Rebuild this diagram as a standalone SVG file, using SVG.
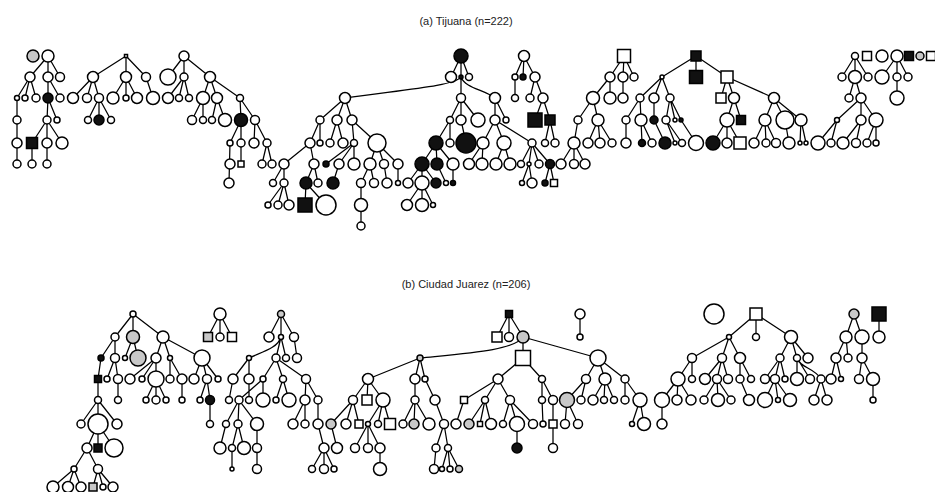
<svg xmlns="http://www.w3.org/2000/svg" width="935" height="492" viewBox="0 0 935 492">
<style>
.e{fill:none;stroke:#000;stroke-width:1.25}
.n{fill:#fff;stroke:#000;stroke-width:1.5}
.b{fill:#111;stroke:#000;stroke-width:1.5}
.g{fill:#c8c8c8;stroke:#000;stroke-width:1.5}
.t{font-family:"Liberation Sans",Arial,sans-serif;font-size:11px;fill:#222;text-anchor:middle}
</style>
<rect width="935" height="492" fill="#fff"/>
<text class="t" x="466" y="25">(a) Tijuana (n=222)</text>
<text class="t" x="466" y="288">(b) Ciudad Juarez (n=206)</text>
<g id="connectors">
<path class="e" d="M48 56L30 77M48 56L48 77M48 56L60 77M30 77L17 98M30 77L25 98M30 77L36 98M48 77L48 98M48 77L60 98M17 98L17 164M48 98L47 120M48 98L57 120M47 120L32 143M47 120L47 143M47 120L62 143M32 143L32 164M47 143L47 164"/>
<path class="e" d="M126 56L93 77M126 56L126 77M126 56L146 77M93 77L73 98M93 77L87 98M93 77L99 98M99 98L88 120M99 98L99 120M99 98L111 120M126 77L113 98M126 77L126 98M126 77L137 98M146 77L153 98"/>
<path class="e" d="M184 56L168 77M184 56L184 77M184 56L210 77M184 77L168 98M184 77L179 98M184 77L189 98M210 77L203 98M210 77L217 98M210 77L240 98M203 98L192 120M203 98L203 120M217 98L212 120M217 98L225 120M240 98L241 120M240 98L255 120M241 120L230 143M241 120L241 143M255 120L254 143M255 120L267 143M230 143L229 183M241 143L241 164M267 143L262 164M267 143L272 164"/>
<path class="e" d="M461 56L451 77M461 56L461 77M461 56L469 77M461 77C455 86 400 90 345 98M461 77L461 98M461 77C465 88 485 90 495 98M345 98L320 120M345 98L337 120M345 98L352 120M461 98L450 120M461 98L461 120M461 98L478 120M495 98L495 120M495 98L506 120M320 120L310 143M320 120L320 143M337 120L330 143M337 120L343 143M352 120L354 143M352 120L377 143M450 120L436 143M450 120L450 143M461 120L466 143M495 120L483 143M495 120L504 143M495 120L532 143M310 143L284 164M310 143L314 164M354 143L326 164M354 143L339 164M354 143L354 164M377 143L370 164M377 143L384 164M377 143L398 164M436 143L422 164M436 143L437 164M436 143L453 164M483 143L469 164M483 143L482 164M504 143L496 164M504 143L510 164M532 143L521 164M532 143L529 164M532 143L539 164M532 143L550 164M284 164L273 183M284 164L284 183M314 164L306 183M314 164L318 183M339 164L333 183M370 164L361 183M370 164L374 183M384 164L387 183M398 164L398 183M422 164L408 183M422 164L422 183M422 164L436 183M437 164L446 183M453 164L453 183M529 164L522 183M529 164L532 183M550 164L545 183M550 164L554 183M284 183L268 205M284 183L278 205M284 183L289 205M306 183L305 205M306 183L326 205M361 183L361 226M422 183L407 205M422 183L422 205M422 183L433 205"/>
<path class="e" d="M524 56L515 77M524 56L523 77M524 56L535 77M515 77L515 98M535 77L530 98M535 77L543 98M543 98L535 120M543 98L550 120M550 120L545 143M550 120L555 143"/>
<path class="e" d="M624 56L610 77M624 56L623 77M624 56L634 77M610 77L593 98M610 77L610 98M623 77L623 98M593 98L578 120M593 98L598 120M578 120L574 143M598 120L588 143M598 120L600 143M598 120L612 143M574 143L561 164M574 143L574 164M574 143L585 164"/>
<path class="e" d="M696 56L662 77M696 56L696 77M696 56L727 77M662 77L640 98M662 77L654 98M662 77L670 98M640 98L626 120M640 98L641 120M654 98L654 120M670 98L666 120M670 98L675 120M670 98L681 120M727 77L721 98M727 77L734 98M727 77L774 98M734 98L727 120M734 98L741 120M774 98L765 120M774 98L785 120M774 98L801 120M626 120L626 143M641 120L642 143M641 120L652 143M654 120L665 143M666 120L675 143M666 120L682 143M681 120L696 143M727 120L713 143M727 120L727 143M727 120L740 143M765 120L754 143M765 120L766 143M765 120L776 143M785 120L789 143M801 120L800 143M801 120L806 143"/>
<path class="e" d="M855 56L842 77M855 56L855 77M855 56L868 77M855 77L849 98M855 77L861 98M861 98L837 120M861 98L861 120M861 98L876 120M837 120L818 143M837 120L831 143M861 120L843 143M861 120L856 143M876 120L867 143M876 120L876 143"/>
<path class="e" d="M897 56L882 77M897 56L897 77M897 56L908 77M897 77L897 98"/>
<path class="e" d="M133 314L115 337M133 314L133 337M133 314L163 337M115 337L101 358M115 337L115 358M133 337L125 358M133 337L138 358M163 337L156 358M163 337L170 358M163 337L202 358M101 358L98 379M115 358L107 379M115 358L118 379M156 358L130 379M156 358L142 379M156 358L156 379M170 358L170 379M170 358L182 379M202 358L194 379M202 358L207 379M202 358L218 379M98 379L98 400M118 379L118 400M156 379L146 400M156 379L156 400M156 379L166 400M182 379L182 400M207 379L200 400M207 379L210 400L210 424M98 400L81 424M98 400L98 424M98 400L117 424M98 424L87 448M98 424L98 448M98 424L114 448M87 448L74 469M87 448L98 469M74 469L53 487M74 469L68 487M74 469L81 487M98 469L93 487M98 469L103 487M98 469L113 487"/>
<path class="e" d="M220 314L208 337M220 314L220 337M220 314L232 337"/>
<path class="e" d="M281 314L269 337M281 314L281 337M281 314L294 337M281 337C278 348 262 352 249 358M281 337L276 358M281 337L286 358M294 337L297 358M249 358L233 379M249 358L249 379M276 358L263 379M276 358L283 379M276 358L306 379M233 379L229 400M263 379L239 400M263 379L263 400M249 379L249 400M283 379L276 400M283 379L289 400M306 379L305 400M306 379L318 400M239 400L226 424M239 400L238 424M239 400L257 424M305 400L293 424M305 400L305 424M318 400L318 424M226 424L220 448M238 424L232 448L232 469M238 424L244 448M257 424L257 469M318 424L324 448M324 448L312 469M324 448L324 469M324 448L334 469"/>
<path class="e" d="M509 314L497 337M509 314L509 337M509 314L523 337M523 337C515 350 470 353 420 358M523 337L523 358M523 337L598 358M420 358L368 379M420 358L415 379M420 358L425 379M523 358L498 379M523 358L542 379M598 358L586 379M598 358L605 379M598 358L625 379M368 379L353 400M368 379L367 400M368 379L383 400M415 379L415 400M425 379L435 400M498 379L464 400M498 379L485 400M498 379L510 400M542 379L542 400M542 379L553 400M586 379L567 400M586 379L581 400M605 379L593 400M605 379L604 400M605 379L614 400M625 379L625 400M625 379L640 400M353 400L331 424M353 400L346 424M353 400L359 424M383 400L368 424M383 400L378 424M383 400L390 424M415 400L403 424M415 400L414 424M415 400L429 424M435 400L444 424M464 400L456 424M485 400L469 424M485 400L480 424M485 400L491 424M510 400L503 424M510 400L517 424M510 400L533 424M542 400L543 424M553 400L553 448M567 400L565 424M567 400L578 424M640 400L632 424M640 400L644 424M331 424L337 448M368 424L355 448M368 424L368 448M368 424L380 448M380 448L380 469M444 424L436 448M444 424L448 448M436 448L434 469M448 448L442 469M448 448L450 469M448 448L459 469M517 424L517 448"/>
<path class="e" d="M580 314L580 337"/>
<path class="e" d="M756 314L729 337M756 314L756 337M756 314L791 337M729 337L692 358M729 337L722 358M729 337L740 358M791 337L780 358M791 337L797 358M791 337L808 358M692 358L678 379M692 358L692 379M722 358L705 379M722 358L717 379M722 358L728 379M740 358L740 379M740 358L751 379M780 358L765 379M780 358L775 379M780 358L785 379M797 358L797 379M797 358L810 379M797 358C800 368 815 368 821 379M678 379L662 400M678 379L677 400M678 379L691 400M717 379L704 400M717 379L718 400M717 379L731 400M740 379L749 400M775 379L765 400M775 379L778 400M775 379L790 400M821 379L814 400M821 379L827 400M662 400L662 424"/>
<path class="e" d="M854 314L846 337M854 314L862 337M846 337L836 358M846 337L848 358M862 337L862 358M836 358L831 379M836 358L841 379M862 358L859 379M862 358L873 379M873 379L873 400"/>
<path class="e" d="M879 314L879 337"/>
</g>
<g id="tree-a1"><circle id="a1-1" class="g" cx="33" cy="56" r="6"/></g>
<g id="tree-a2">
<circle id="a2-1" class="n" cx="48" cy="56" r="6"/><circle id="a2-2" class="n" cx="30" cy="77" r="5"/><circle id="a2-3" class="n" cx="48" cy="77" r="5"/><circle id="a2-4" class="n" cx="60" cy="77" r="4.5"/>
<circle id="a2-5" class="n" cx="17" cy="98" r="2.5"/><circle id="a2-6" class="n" cx="25" cy="98" r="3"/><circle id="a2-7" class="n" cx="36" cy="98" r="4"/><circle id="a2-8" class="b" cx="48" cy="98" r="5"/><circle id="a2-9" class="n" cx="60" cy="98" r="4"/>
<circle id="a2-10" class="n" cx="17" cy="120" r="4"/><circle id="a2-11" class="n" cx="47" cy="120" r="4"/><circle id="a2-12" class="n" cx="57" cy="120" r="3"/>
<circle id="a2-13" class="n" cx="17" cy="143" r="5"/><rect id="a2-14" class="b" x="26.5" y="137.5" width="11" height="11"/><circle id="a2-15" class="n" cx="47" cy="143" r="5"/><circle id="a2-16" class="n" cx="62" cy="143" r="6"/>
<circle id="a2-17" class="n" cx="17" cy="164" r="4"/><circle id="a2-18" class="n" cx="32" cy="164" r="4"/><circle id="a2-19" class="n" cx="47" cy="164" r="4"/>
</g>
<g id="tree-a3">
<rect id="a3-1" class="n" x="124.5" y="54.5" width="3" height="3"/>
<circle id="a3-2" class="n" cx="93" cy="77" r="5.5"/><circle id="a3-3" class="n" cx="126" cy="77" r="5.5"/><circle id="a3-4" class="n" cx="146" cy="77" r="4.5"/>
<circle id="a3-5" class="n" cx="73" cy="98" r="5.5"/><circle id="a3-6" class="n" cx="87" cy="98" r="4.5"/><circle id="a3-7" class="n" cx="99" cy="98" r="4.5"/><circle id="a3-8" class="n" cx="113" cy="98" r="6"/><circle id="a3-9" class="n" cx="126" cy="98" r="3"/><circle id="a3-10" class="n" cx="137" cy="98" r="5.5"/><circle id="a3-11" class="n" cx="153" cy="98" r="6.5"/>
<circle id="a3-12" class="n" cx="88" cy="120" r="3.5"/><circle id="a3-13" class="b" cx="99" cy="120" r="5"/><circle id="a3-14" class="n" cx="111" cy="120" r="3.5"/>
</g>
<g id="tree-a4">
<circle id="a4-1" class="n" cx="184" cy="56" r="5"/><circle id="a4-2" class="n" cx="168" cy="77" r="8"/><circle id="a4-3" class="n" cx="184" cy="77" r="4"/><circle id="a4-4" class="n" cx="210" cy="77" r="5.5"/>
<circle id="a4-5" class="n" cx="168" cy="98" r="5.5"/><circle id="a4-6" class="n" cx="179" cy="98" r="3.5"/><circle id="a4-7" class="n" cx="189" cy="98" r="3.5"/><circle id="a4-8" class="n" cx="203" cy="98" r="6.5"/><circle id="a4-9" class="n" cx="217" cy="98" r="5.5"/><circle id="a4-10" class="n" cx="240" cy="98" r="3.5"/>
<circle id="a4-11" class="n" cx="192" cy="120" r="4.5"/><circle id="a4-12" class="n" cx="203" cy="120" r="3.5"/><circle id="a4-13" class="n" cx="212" cy="120" r="3.5"/><circle id="a4-14" class="n" cx="225" cy="120" r="6.5"/><circle id="a4-15" class="b" cx="241" cy="120" r="6.5"/><circle id="a4-16" class="n" cx="255" cy="120" r="4.5"/>
<circle id="a4-17" class="n" cx="230" cy="143" r="3"/><circle id="a4-18" class="n" cx="241" cy="143" r="4"/><circle id="a4-19" class="n" cx="254" cy="143" r="5"/><circle id="a4-20" class="n" cx="267" cy="143" r="4"/>
<circle id="a4-21" class="n" cx="230" cy="164" r="5"/><rect id="a4-22" class="n" x="238" y="161" width="6" height="6"/><circle id="a4-23" class="n" cx="262" cy="164" r="4"/><circle id="a4-24" class="n" cx="272" cy="164" r="4"/>
<circle id="a4-25" class="n" cx="229" cy="183" r="5"/>
</g>
<g id="tree-a5">
<circle id="a5-1" class="b" cx="461" cy="56" r="7"/><circle id="a5-2" class="n" cx="451" cy="77" r="5.5"/><circle id="a5-3" class="b" cx="461" cy="77" r="2"/><circle id="a5-4" class="n" cx="469" cy="77" r="3.5"/>
<circle id="a5-5" class="n" cx="345" cy="98" r="5.5"/><circle id="a5-6" class="n" cx="461" cy="98" r="4.5"/><circle id="a5-7" class="n" cx="495" cy="98" r="5.5"/>
<circle id="a5-8" class="n" cx="320" cy="120" r="4"/><circle id="a5-9" class="n" cx="337" cy="120" r="5"/><circle id="a5-10" class="n" cx="352" cy="120" r="5"/><circle id="a5-11" class="n" cx="450" cy="120" r="3.5"/><circle id="a5-12" class="n" cx="461" cy="120" r="5"/><circle id="a5-13" class="n" cx="478" cy="120" r="7"/><circle id="a5-14" class="n" cx="495" cy="120" r="5"/><circle id="a5-15" class="n" cx="506" cy="120" r="3"/>
<circle id="a5-16" class="n" cx="310" cy="143" r="5"/><circle id="a5-17" class="n" cx="320" cy="143" r="3"/><circle id="a5-18" class="n" cx="330" cy="143" r="4"/><circle id="a5-19" class="n" cx="343" cy="143" r="5"/><circle id="a5-20" class="n" cx="354" cy="143" r="3.5"/><circle id="a5-21" class="n" cx="377" cy="143" r="9"/><circle id="a5-22" class="b" cx="436" cy="143" r="7"/><circle id="a5-23" class="n" cx="450" cy="143" r="4"/><circle id="a5-24" class="b" cx="466" cy="143" r="10"/><circle id="a5-25" class="n" cx="483" cy="143" r="6"/><circle id="a5-26" class="n" cx="504" cy="143" r="7"/><circle id="a5-27" class="n" cx="532" cy="143" r="4"/>
<circle id="a5-28" class="n" cx="284" cy="164" r="5"/><circle id="a5-29" class="n" cx="314" cy="164" r="5"/><circle id="a5-30" class="b" cx="326" cy="164" r="3"/><circle id="a5-31" class="n" cx="339" cy="164" r="5"/><circle id="a5-32" class="n" cx="354" cy="164" r="6"/><circle id="a5-33" class="n" cx="370" cy="164" r="6"/><circle id="a5-34" class="n" cx="384" cy="164" r="4.5"/><circle id="a5-35" class="n" cx="398" cy="164" r="5"/><circle id="a5-36" class="b" cx="422" cy="164" r="7"/><circle id="a5-37" class="b" cx="437" cy="164" r="6"/><circle id="a5-38" class="n" cx="453" cy="164" r="6"/><circle id="a5-39" class="n" cx="469" cy="164" r="5.5"/><circle id="a5-40" class="n" cx="482" cy="164" r="6"/><circle id="a5-41" class="n" cx="496" cy="164" r="6"/><circle id="a5-42" class="n" cx="510" cy="164" r="6"/><circle id="a5-43" class="n" cx="521" cy="164" r="3.5"/><circle id="a5-44" class="n" cx="529" cy="164" r="2"/><circle id="a5-45" class="n" cx="539" cy="164" r="4"/><circle id="a5-46" class="b" cx="550" cy="164" r="4.5"/>
<circle id="a5-47" class="n" cx="273" cy="183" r="3.5"/><circle id="a5-48" class="n" cx="284" cy="183" r="4"/><circle id="a5-49" class="b" cx="306" cy="183" r="6"/><circle id="a5-50" class="n" cx="318" cy="183" r="4"/><circle id="a5-51" class="b" cx="333" cy="183" r="6"/><circle id="a5-52" class="n" cx="361" cy="183" r="4.5"/><circle id="a5-53" class="n" cx="374" cy="183" r="4.5"/><circle id="a5-54" class="n" cx="387" cy="183" r="5"/><circle id="a5-55" class="n" cx="398" cy="183" r="2.5"/><circle id="a5-56" class="n" cx="408" cy="183" r="5"/><circle id="a5-57" class="n" cx="422" cy="183" r="7"/><circle id="a5-58" class="b" cx="436" cy="183" r="5"/><circle id="a5-59" class="n" cx="446" cy="183" r="2.5"/><circle id="a5-60" class="b" cx="453" cy="183" r="2.5"/><circle id="a5-61" class="n" cx="522" cy="183" r="2.5"/><circle id="a5-62" class="n" cx="532" cy="183" r="5"/><circle id="a5-63" class="b" cx="545" cy="183" r="3"/><rect id="a5-64" class="n" x="550.5" y="179.5" width="7" height="7"/>
<circle id="a5-65" class="n" cx="268" cy="205" r="3"/><circle id="a5-66" class="n" cx="278" cy="205" r="4"/><circle id="a5-67" class="n" cx="289" cy="205" r="5"/><rect id="a5-68" class="b" x="298" y="198" width="14" height="14"/><circle id="a5-69" class="n" cx="326" cy="205" r="10"/><circle id="a5-70" class="n" cx="361" cy="205" r="6.5"/><circle id="a5-71" class="n" cx="407" cy="205" r="5.5"/><circle id="a5-72" class="n" cx="422" cy="205" r="6.5"/><circle id="a5-73" class="n" cx="433" cy="205" r="2.5"/>
<circle id="a5-74" class="n" cx="361" cy="226" r="4"/>
</g>
<g id="tree-a6">
<circle id="a6-1" class="n" cx="524" cy="56" r="5.5"/><circle id="a6-2" class="n" cx="515" cy="77" r="3"/><circle id="a6-3" class="b" cx="523" cy="77" r="3"/><circle id="a6-4" class="n" cx="535" cy="77" r="5"/>
<circle id="a6-5" class="n" cx="515" cy="98" r="3.5"/><circle id="a6-6" class="n" cx="530" cy="98" r="4"/><circle id="a6-7" class="n" cx="543" cy="98" r="5"/>
<rect id="a6-8" class="b" x="528" y="113" width="14" height="14"/><rect id="a6-9" class="b" x="545" y="115" width="10" height="10"/>
<circle id="a6-10" class="n" cx="545" cy="143" r="3.5"/><circle id="a6-11" class="n" cx="555" cy="143" r="4"/>
</g>
<g id="tree-a7">
<rect id="a7-1" class="n" x="617.5" y="49.5" width="13" height="13"/><circle id="a7-2" class="n" cx="610" cy="77" r="5"/><circle id="a7-3" class="n" cx="623" cy="77" r="5"/><circle id="a7-4" class="n" cx="634" cy="77" r="4"/>
<circle id="a7-5" class="n" cx="593" cy="98" r="6.5"/><circle id="a7-6" class="n" cx="610" cy="98" r="6"/><circle id="a7-7" class="n" cx="623" cy="98" r="5"/>
<circle id="a7-8" class="n" cx="578" cy="120" r="4"/><circle id="a7-9" class="n" cx="598" cy="120" r="6"/>
<circle id="a7-10" class="n" cx="574" cy="143" r="6"/><circle id="a7-11" class="n" cx="588" cy="143" r="5"/><circle id="a7-12" class="n" cx="600" cy="143" r="5"/><circle id="a7-13" class="n" cx="612" cy="143" r="4"/>
<circle id="a7-14" class="n" cx="561" cy="164" r="5"/><circle id="a7-15" class="n" cx="574" cy="164" r="4.5"/><circle id="a7-16" class="n" cx="585" cy="164" r="5"/>
</g>
<g id="tree-a8">
<rect id="a8-1" class="b" x="691" y="51" width="10" height="10"/><circle id="a8-2" class="n" cx="662" cy="77" r="2"/><rect id="a8-3" class="b" x="689.5" y="70.5" width="13" height="13"/><rect id="a8-4" class="n" x="721" y="71" width="12" height="12"/>
<circle id="a8-5" class="n" cx="640" cy="98" r="4"/><circle id="a8-6" class="n" cx="654" cy="98" r="5"/><circle id="a8-7" class="n" cx="670" cy="98" r="4"/><rect id="a8-8" class="n" x="716" y="93" width="10" height="10"/><circle id="a8-9" class="n" cx="734" cy="98" r="5.5"/><circle id="a8-10" class="n" cx="774" cy="98" r="5.5"/>
<circle id="a8-11" class="n" cx="626" cy="120" r="4"/><circle id="a8-12" class="n" cx="641" cy="120" r="6"/><circle id="a8-13" class="b" cx="654" cy="120" r="4"/><circle id="a8-14" class="n" cx="666" cy="120" r="4"/><circle id="a8-15" class="n" cx="675" cy="120" r="2"/><circle id="a8-16" class="b" cx="681" cy="120" r="2"/><circle id="a8-17" class="n" cx="727" cy="120" r="7"/><rect id="a8-18" class="b" x="736.5" y="115.5" width="9" height="9"/><circle id="a8-19" class="n" cx="765" cy="120" r="6"/><circle id="a8-20" class="n" cx="785" cy="120" r="9"/><circle id="a8-21" class="n" cx="801" cy="120" r="6"/>
<circle id="a8-22" class="n" cx="626" cy="143" r="5"/><circle id="a8-23" class="b" cx="642" cy="143" r="3.5"/><circle id="a8-24" class="n" cx="652" cy="143" r="4"/><circle id="a8-25" class="b" cx="665" cy="143" r="6"/><circle id="a8-26" class="n" cx="675" cy="143" r="2"/><circle id="a8-27" class="n" cx="682" cy="143" r="3.5"/><circle id="a8-28" class="n" cx="696" cy="143" r="7.5"/><circle id="a8-29" class="b" cx="713" cy="143" r="7"/><circle id="a8-30" class="n" cx="727" cy="143" r="5"/><rect id="a8-31" class="n" x="734" y="137" width="12" height="12"/><circle id="a8-32" class="n" cx="754" cy="143" r="5"/><circle id="a8-33" class="n" cx="766" cy="143" r="4"/><circle id="a8-34" class="n" cx="776" cy="143" r="4.5"/><circle id="a8-35" class="n" cx="789" cy="143" r="6"/><circle id="a8-36" class="n" cx="800" cy="143" r="2"/><circle id="a8-37" class="n" cx="806" cy="143" r="2"/>
</g>
<g id="tree-a9">
<circle id="a9-1" class="n" cx="855" cy="56" r="3.5"/><circle id="a9-2" class="n" cx="842" cy="77" r="4"/><circle id="a9-3" class="n" cx="855" cy="77" r="6.5"/><circle id="a9-4" class="n" cx="868" cy="77" r="4"/>
<circle id="a9-5" class="n" cx="849" cy="98" r="4"/><circle id="a9-6" class="n" cx="861" cy="98" r="5"/>
<circle id="a9-7" class="n" cx="837" cy="120" r="2.5"/><circle id="a9-8" class="n" cx="861" cy="120" r="5"/><circle id="a9-9" class="n" cx="876" cy="120" r="7"/>
<circle id="a9-10" class="n" cx="818" cy="143" r="7"/><circle id="a9-11" class="n" cx="831" cy="143" r="4"/><circle id="a9-12" class="n" cx="843" cy="143" r="6"/><circle id="a9-13" class="n" cx="856" cy="143" r="4.5"/><circle id="a9-14" class="n" cx="867" cy="143" r="4"/><circle id="a9-15" class="n" cx="876" cy="143" r="3"/>
</g>
<g id="tree-a10">
<rect id="a10-0" class="n" x="862.5" y="51.5" width="9" height="9"/><circle id="a10-00" class="n" cx="882" cy="56" r="6"/>
<circle id="a10-1" class="n" cx="897" cy="56" r="6"/><circle id="a10-2" class="n" cx="882" cy="77" r="7"/><circle id="a10-3" class="n" cx="897" cy="77" r="4"/><circle id="a10-4" class="n" cx="908" cy="77" r="4"/><circle id="a10-5" class="n" cx="897" cy="98" r="7"/>
<rect id="a10-6" class="b" x="904.5" y="51.5" width="9" height="9"/><circle id="a10-7" class="g" cx="920" cy="56" r="4"/><rect id="a10-8" class="n" x="926.5" y="51.5" width="9" height="9"/>
</g>
<g id="tree-b1">
<circle id="b1-1" class="n" cx="133" cy="314" r="3"/><circle id="b1-2" class="n" cx="115" cy="337" r="4"/><circle id="b1-3" class="g" cx="133" cy="337" r="6.5"/><circle id="b1-4" class="n" cx="163" cy="337" r="6"/>
<circle id="b1-5" class="b" cx="101" cy="358" r="3"/><circle id="b1-6" class="n" cx="115" cy="358" r="4.5"/><circle id="b1-7" class="n" cx="125" cy="358" r="2.5"/><circle id="b1-8" class="g" cx="138" cy="358" r="8"/><circle id="b1-9" class="n" cx="156" cy="358" r="5"/><circle id="b1-10" class="n" cx="170" cy="358" r="2.5"/><circle id="b1-11" class="n" cx="202" cy="358" r="8"/>
<rect id="b1-12" class="b" x="94.5" y="375.5" width="7" height="7"/><circle id="b1-13" class="n" cx="107" cy="379" r="3"/><circle id="b1-14" class="n" cx="118" cy="379" r="4.5"/><circle id="b1-15" class="n" cx="130" cy="379" r="5"/><circle id="b1-16" class="n" cx="142" cy="379" r="3"/><circle id="b1-17" class="n" cx="156" cy="379" r="8"/><circle id="b1-18" class="n" cx="170" cy="379" r="4"/><circle id="b1-19" class="n" cx="182" cy="379" r="5"/><circle id="b1-20" class="n" cx="194" cy="379" r="5"/><circle id="b1-21" class="n" cx="207" cy="379" r="4.5"/><circle id="b1-22" class="n" cx="218" cy="379" r="3"/>
<circle id="b1-23" class="n" cx="98" cy="400" r="3.5"/><circle id="b1-24" class="n" cx="118" cy="400" r="3.5"/><circle id="b1-25" class="n" cx="146" cy="400" r="3"/><circle id="b1-26" class="n" cx="156" cy="400" r="4"/><circle id="b1-27" class="n" cx="166" cy="400" r="3"/><circle id="b1-28" class="n" cx="182" cy="400" r="3"/><circle id="b1-29" class="n" cx="200" cy="400" r="3"/><circle id="b1-30" class="b" cx="210" cy="400" r="4.5"/>
<circle id="b1-31" class="n" cx="81" cy="424" r="4"/><circle id="b1-32" class="n" cx="98" cy="424" r="10"/><circle id="b1-33" class="n" cx="117" cy="424" r="5"/><circle id="b1-34" class="n" cx="210" cy="424" r="3.5"/>
<circle id="b1-35" class="n" cx="87" cy="448" r="5"/><rect id="b1-36" class="b" x="94" y="444" width="8" height="8"/><circle id="b1-37" class="n" cx="114" cy="448" r="9"/>
<circle id="b1-38" class="n" cx="74" cy="469" r="3"/><circle id="b1-39" class="n" cx="98" cy="469" r="4.5"/>
<circle id="b1-40" class="n" cx="53" cy="487" r="6"/><circle id="b1-41" class="n" cx="68" cy="487" r="5.5"/><circle id="b1-42" class="n" cx="81" cy="487" r="5"/><rect id="b1-43" class="g" x="89" y="483" width="8" height="8"/><circle id="b1-44" class="n" cx="103" cy="487" r="3"/><circle id="b1-45" class="n" cx="113" cy="487" r="5"/>
</g>
<g id="tree-b2">
<circle id="b2-1" class="n" cx="220" cy="314" r="6"/><rect id="b2-2" class="g" x="203.5" y="332.5" width="9" height="9"/><circle id="b2-3" class="n" cx="220" cy="337" r="4"/><rect id="b2-4" class="n" x="227.5" y="332.5" width="9" height="9"/>
</g>
<g id="tree-b3">
<circle id="b3-1" class="g" cx="281" cy="314" r="3.5"/><circle id="b3-2" class="n" cx="269" cy="337" r="5"/><circle id="b3-3" class="n" cx="281" cy="337" r="2.5"/><circle id="b3-4" class="n" cx="294" cy="337" r="4.5"/>
<circle id="b3-5" class="n" cx="249" cy="358" r="2.5"/><circle id="b3-6" class="n" cx="276" cy="358" r="4"/><circle id="b3-7" class="n" cx="286" cy="358" r="3.5"/><circle id="b3-8" class="n" cx="297" cy="358" r="4.5"/>
<circle id="b3-9" class="n" cx="233" cy="379" r="5"/><circle id="b3-10" class="n" cx="249" cy="379" r="5"/><circle id="b3-11" class="n" cx="263" cy="379" r="3"/><circle id="b3-12" class="n" cx="283" cy="379" r="3.5"/><circle id="b3-13" class="n" cx="306" cy="379" r="4.5"/>
<circle id="b3-14" class="n" cx="229" cy="400" r="3.5"/><circle id="b3-15" class="n" cx="239" cy="400" r="4"/><circle id="b3-16" class="n" cx="249" cy="400" r="3.5"/><circle id="b3-17" class="n" cx="263" cy="400" r="7"/><circle id="b3-18" class="n" cx="276" cy="400" r="3"/><circle id="b3-19" class="n" cx="289" cy="400" r="7"/><circle id="b3-20" class="n" cx="305" cy="400" r="5"/><circle id="b3-21" class="n" cx="318" cy="400" r="4"/>
<circle id="b3-22" class="n" cx="226" cy="424" r="3.5"/><circle id="b3-23" class="n" cx="238" cy="424" r="4"/><circle id="b3-24" class="n" cx="257" cy="424" r="6.5"/><circle id="b3-25" class="n" cx="293" cy="424" r="5"/><circle id="b3-26" class="n" cx="305" cy="424" r="4"/><circle id="b3-27" class="n" cx="318" cy="424" r="5"/>
<circle id="b3-28" class="n" cx="220" cy="448" r="6"/><circle id="b3-29" class="n" cx="232" cy="448" r="3.5"/><circle id="b3-30" class="n" cx="244" cy="448" r="6.5"/><circle id="b3-31" class="n" cx="257" cy="448" r="4.5"/><circle id="b3-32" class="n" cx="324" cy="448" r="5"/>
<circle id="b3-33" class="n" cx="232" cy="469" r="2"/><circle id="b3-34" class="n" cx="257" cy="469" r="4.5"/><circle id="b3-35" class="n" cx="312" cy="469" r="3.5"/><circle id="b3-36" class="n" cx="324" cy="469" r="4.5"/><circle id="b3-37" class="n" cx="334" cy="469" r="3"/>
</g>
<g id="tree-b4">
<rect id="b4-1" class="b" x="505.5" y="310.5" width="7" height="7"/><rect id="b4-2" class="n" x="492" y="332" width="10" height="10"/><circle id="b4-3" class="n" cx="509" cy="337" r="4.5"/><circle id="b4-4" class="g" cx="523" cy="337" r="6"/>
<circle id="b4-5" class="g" cx="420" cy="358" r="3"/><rect id="b4-6" class="n" x="515.5" y="350.5" width="15" height="15"/><circle id="b4-7" class="n" cx="598" cy="358" r="8"/>
<circle id="b4-8" class="n" cx="368" cy="379" r="5.5"/><circle id="b4-9" class="n" cx="415" cy="379" r="5"/><circle id="b4-10" class="n" cx="425" cy="379" r="3"/><circle id="b4-11" class="n" cx="498" cy="379" r="5"/><circle id="b4-12" class="n" cx="542" cy="379" r="3.5"/><circle id="b4-13" class="n" cx="586" cy="379" r="4.5"/><circle id="b4-14" class="n" cx="605" cy="379" r="6"/><circle id="b4-15" class="n" cx="625" cy="379" r="4"/>
<circle id="b4-16" class="n" cx="353" cy="400" r="4.5"/><rect id="b4-17" class="n" x="362" y="395" width="10" height="10"/><circle id="b4-18" class="n" cx="383" cy="400" r="7"/><circle id="b4-19" class="n" cx="415" cy="400" r="4"/><circle id="b4-20" class="n" cx="435" cy="400" r="5"/><rect id="b4-21" class="n" x="460.5" y="396.5" width="7" height="7"/><circle id="b4-22" class="n" cx="485" cy="400" r="3.5"/><circle id="b4-23" class="n" cx="510" cy="400" r="4.5"/><circle id="b4-24" class="n" cx="542" cy="400" r="3.5"/><circle id="b4-25" class="n" cx="553" cy="400" r="4.5"/><circle id="b4-26" class="g" cx="567" cy="400" r="7.5"/><circle id="b4-27" class="n" cx="581" cy="400" r="4"/><circle id="b4-28" class="n" cx="593" cy="400" r="5"/><circle id="b4-29" class="n" cx="604" cy="400" r="3.5"/><circle id="b4-30" class="n" cx="614" cy="400" r="3.5"/><circle id="b4-31" class="n" cx="625" cy="400" r="4"/><circle id="b4-32" class="n" cx="640" cy="400" r="7"/>
<circle id="b4-33" class="g" cx="331" cy="424" r="5"/><circle id="b4-34" class="n" cx="346" cy="424" r="5"/><rect id="b4-35" class="n" x="355" y="420" width="8" height="8"/><circle id="b4-36" class="n" cx="368" cy="424" r="2.5"/><circle id="b4-37" class="n" cx="378" cy="424" r="3.5"/><rect id="b4-38" class="n" x="384.5" y="418.5" width="11" height="11"/><circle id="b4-39" class="n" cx="403" cy="424" r="4"/><circle id="b4-40" class="g" cx="414" cy="424" r="5"/><circle id="b4-41" class="n" cx="429" cy="424" r="6"/><circle id="b4-42" class="n" cx="444" cy="424" r="4.5"/><circle id="b4-43" class="n" cx="456" cy="424" r="5"/><circle id="b4-44" class="g" cx="469" cy="424" r="5"/><rect id="b4-45" class="n" x="477.5" y="421.5" width="5" height="5"/><circle id="b4-46" class="n" cx="491" cy="424" r="5.5"/><circle id="b4-47" class="n" cx="503" cy="424" r="3.5"/><circle id="b4-48" class="n" cx="517" cy="424" r="7.5"/><circle id="b4-49" class="n" cx="533" cy="424" r="4.5"/><circle id="b4-50" class="n" cx="543" cy="424" r="3"/><rect id="b4-51" class="n" x="549" y="420" width="8" height="8"/><circle id="b4-52" class="n" cx="565" cy="424" r="4.5"/><circle id="b4-53" class="n" cx="578" cy="424" r="4.5"/><circle id="b4-54" class="n" cx="632" cy="424" r="2.5"/><circle id="b4-55" class="n" cx="644" cy="424" r="6.5"/>
<circle id="b4-56" class="n" cx="337" cy="448" r="5.5"/><circle id="b4-57" class="n" cx="355" cy="448" r="4.5"/><circle id="b4-58" class="n" cx="368" cy="448" r="4.5"/><circle id="b4-59" class="n" cx="380" cy="448" r="5"/><circle id="b4-60" class="n" cx="436" cy="448" r="4"/><circle id="b4-61" class="n" cx="448" cy="448" r="3.5"/><circle id="b4-62" class="b" cx="517" cy="448" r="5"/><circle id="b4-63" class="n" cx="553" cy="448" r="4.5"/>
<circle id="b4-64" class="n" cx="380" cy="469" r="6.5"/><circle id="b4-65" class="n" cx="434" cy="469" r="4.5"/><circle id="b4-66" class="n" cx="442" cy="469" r="2.5"/><circle id="b4-67" class="n" cx="450" cy="469" r="3"/><circle id="b4-68" class="g" cx="459" cy="469" r="3.5"/>
</g>
<g id="tree-b5"><circle id="b5-1" class="n" cx="580" cy="314" r="5"/><circle id="b5-2" class="n" cx="580" cy="337" r="3"/></g>
<g id="tree-b6"><circle id="b6-0" class="n" cx="714" cy="314" r="10"/></g>
<g id="tree-b7">
<rect id="b7-1" class="n" x="750" y="308" width="12" height="12"/><circle id="b7-2" class="n" cx="729" cy="337" r="2.5"/><circle id="b7-3" class="n" cx="756" cy="337" r="3.5"/><circle id="b7-4" class="n" cx="791" cy="337" r="6.5"/>
<circle id="b7-5" class="n" cx="692" cy="358" r="4.5"/><circle id="b7-6" class="n" cx="722" cy="358" r="4.5"/><circle id="b7-7" class="n" cx="740" cy="358" r="5.5"/><circle id="b7-8" class="n" cx="780" cy="358" r="4"/><circle id="b7-9" class="n" cx="797" cy="358" r="3.5"/><circle id="b7-10" class="n" cx="808" cy="358" r="5"/>
<circle id="b7-11" class="n" cx="678" cy="379" r="7"/><circle id="b7-12" class="n" cx="692" cy="379" r="3.5"/><circle id="b7-13" class="n" cx="705" cy="379" r="5.5"/><circle id="b7-14" class="n" cx="717" cy="379" r="4.5"/><circle id="b7-15" class="n" cx="728" cy="379" r="4.5"/><circle id="b7-16" class="n" cx="740" cy="379" r="4"/><circle id="b7-17" class="n" cx="751" cy="379" r="3.5"/><circle id="b7-18" class="n" cx="765" cy="379" r="4.5"/><circle id="b7-19" class="n" cx="775" cy="379" r="4.5"/><circle id="b7-20" class="n" cx="785" cy="379" r="3"/><circle id="b7-21" class="n" cx="797" cy="379" r="6.5"/><circle id="b7-22" class="n" cx="810" cy="379" r="4.5"/><circle id="b7-23" class="n" cx="821" cy="379" r="4"/>
<circle id="b7-24" class="n" cx="662" cy="400" r="7.5"/><circle id="b7-25" class="n" cx="677" cy="400" r="5"/><circle id="b7-26" class="n" cx="691" cy="400" r="5"/><circle id="b7-27" class="n" cx="704" cy="400" r="4"/><circle id="b7-28" class="n" cx="718" cy="400" r="6.5"/><circle id="b7-29" class="n" cx="731" cy="400" r="4"/><circle id="b7-30" class="n" cx="749" cy="400" r="5.5"/><circle id="b7-31" class="n" cx="765" cy="400" r="7.5"/><circle id="b7-32" class="n" cx="778" cy="400" r="2.5"/><circle id="b7-33" class="n" cx="790" cy="400" r="6.5"/><circle id="b7-34" class="n" cx="814" cy="400" r="5"/><circle id="b7-35" class="n" cx="827" cy="400" r="5"/>
<circle id="b7-36" class="n" cx="662" cy="424" r="5"/>
</g>
<g id="tree-b8">
<circle id="b8-1" class="g" cx="854" cy="314" r="5"/><circle id="b8-2" class="n" cx="846" cy="337" r="6"/><circle id="b8-3" class="n" cx="862" cy="337" r="7"/>
<circle id="b8-4" class="n" cx="836" cy="358" r="5"/><circle id="b8-5" class="n" cx="848" cy="358" r="4"/><circle id="b8-6" class="n" cx="862" cy="358" r="5"/>
<circle id="b8-7" class="n" cx="831" cy="379" r="5"/><circle id="b8-8" class="n" cx="841" cy="379" r="2.5"/><circle id="b8-9" class="n" cx="859" cy="379" r="4.5"/><circle id="b8-10" class="n" cx="873" cy="379" r="6.5"/>
<circle id="b8-11" class="n" cx="873" cy="400" r="3"/>
</g>
<g id="tree-b9"><rect id="b9-1" class="b" x="872" y="307" width="14" height="14"/><circle id="b9-2" class="n" cx="879" cy="337" r="6"/></g>
</svg>
